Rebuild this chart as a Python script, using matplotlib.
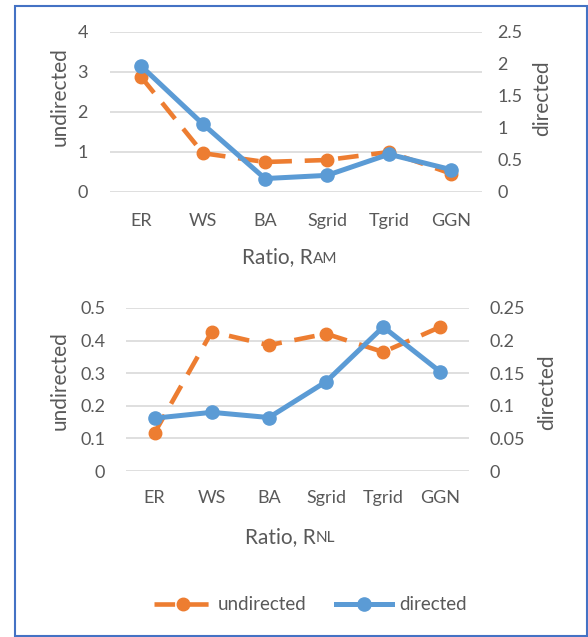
import matplotlib
matplotlib.use("Agg")
import matplotlib.pyplot as plt
from matplotlib.lines import Line2D
from matplotlib.patches import Rectangle

plt.rcParams['font.family'] = ['Lato', 'DejaVu Sans']

categories = ["ER", "WS", "BA", "Sgrid", "Tgrid", "GGN"]

# Ratio R_AM
ram_undirected = [2.88, 0.97, 0.75, 0.80, 1.00, 0.46]
ram_directed = [1.97, 1.06, 0.21, 0.26, 0.59, 0.35]

# Ratio R_NL
rnl_undirected = [0.117, 0.427, 0.386, 0.421, 0.365, 0.442]
rnl_directed = [0.081, 0.090, 0.082, 0.137, 0.221, 0.152]

left_ticks_top = [0, 1, 2, 3, 4]
right_ticks_top = [0, 0.5, 1, 1.5, 2, 2.5]
left_ticks_bot = [0, 0.1, 0.2, 0.3, 0.4, 0.5]
right_ticks_bot = [0, 0.05, 0.1, 0.15, 0.2, 0.25]

ORANGE = "#ED7D31"
BLUE = "#5B9BD5"
TEXT = "#595959"
GRID = "#D9D9D9"
W, H = 588, 637

fig = plt.figure(figsize=(W / 100, H / 100), dpi=100)
fig.patches.append(Rectangle((15 / W, 1 - 636 / H), 572 / W, 630 / H,
                             transform=fig.transFigure, fill=False,
                             edgecolor="#4472C4", linewidth=1.5))


def fmt(v):
    return f"{v:g}"


def panel(rect, und, dire, lt, rt, lab_pad, sub, xl_join, xl_y, ylab_l, ylab_r):
    ax = fig.add_axes(rect)
    x = range(len(categories))
    ax.plot(x, und, color=ORANGE, lw=3.3, dashes=(4.5, 2.8),
            marker="o", ms=9, dash_capstyle="butt")
    ax.set_xlim(-0.5, len(categories) - 0.5)
    ax.set_ylim(lt[0], lt[-1])
    ax.set_yticks(lt)
    ax.set_yticklabels([fmt(v) for v in lt])
    ax.grid(axis="y", color=GRID, lw=1.2)
    ax.set_axisbelow(True)
    ax.set_xticks(list(x))
    ax.set_xticklabels(categories)
    ax2 = ax.twinx()
    ax2.plot(x, dire, color=BLUE, lw=3.6, marker="o", ms=9.5,
             solid_capstyle="round")
    ax2.set_ylim(rt[0], rt[-1])
    ax2.set_yticks(rt)
    ax2.set_yticklabels([fmt(v) for v in rt])
    for a in (ax, ax2):
        for s in a.spines.values():
            s.set_visible(False)
        a.tick_params(length=0, colors=TEXT, labelsize=13)
    ax.tick_params(axis="x", pad=lab_pad[0])
    ax.tick_params(axis="y", pad=lab_pad[1])
    ax2.tick_params(axis="y", pad=lab_pad[2])
    fig.text(xl_join / W, 1 - xl_y / H, "Ratio, R", ha="right", va="center",
             fontsize=15, color=TEXT)
    fig.text(xl_join / W, 1 - (xl_y + 1.5) / H, sub, ha="left", va="center",
             fontsize=11, color=TEXT)
    fig.text(ylab_l[0] / W, 1 - ylab_l[1] / H, "undirected", rotation=90,
             ha="center", va="center", fontsize=15, color=TEXT)
    fig.text(ylab_r[0] / W, 1 - ylab_r[1] / H, "directed", rotation=90,
             ha="center", va="center", fontsize=15, color=TEXT)
    return ax, ax2


panel([110 / W, 1 - 192 / H, 372 / W, 160 / H], ram_undirected, ram_directed,
      left_ticks_top, right_ticks_top, (15, 16, 11), "AM", 313, 257,
      (60, 97), (542, 98))
panel([126 / W, 1 - 471 / H, 343 / W, 163 / H], rnl_undirected, rnl_directed,
      left_ticks_bot, right_ticks_bot, (14, 15, 15), "NL", 316, 537,
      (60, 381), (547, 392))

handles = [
    Line2D([], [], color=ORANGE, lw=3.3, dashes=(4.5, 2.8), marker="o", ms=9),
    Line2D([], [], color=BLUE, lw=3.6, marker="o", ms=9.5),
]
fig.legend(handles, ["undirected", "directed"], loc="center",
           bbox_to_anchor=(0.528, 1 - 605 / H), ncol=2, frameon=False,
           fontsize=13.5, labelcolor=TEXT, handlelength=3.0, columnspacing=1.6,
           handletextpad=0.35)

fig.savefig("out.png", dpi=100)
